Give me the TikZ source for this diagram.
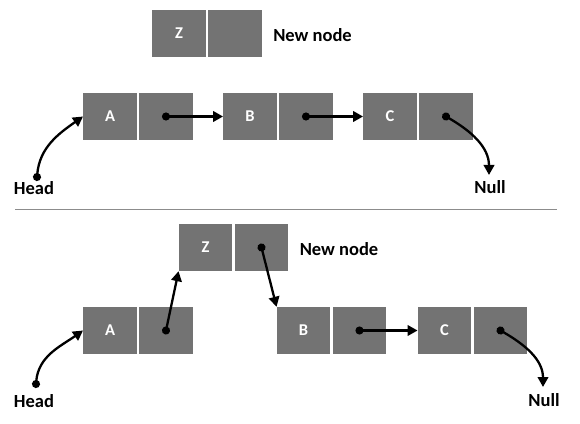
\documentclass[tikz,border=0pt]{standalone}
\usepackage{fontspec}
\setmainfont{Carlito}
\usetikzlibrary{arrows.meta}

\definecolor{cellgray}{RGB}{115,115,115}
\definecolor{rulegray}{RGB}{140,140,140}

\tikzstyle{cell}=[fill=cellgray,rectangle,minimum width=53.5pt,minimum height=47pt,inner sep=0pt,text=white,font=\bfseries\fontsize{16.5}{19}\selectfont]
\tikzstyle{tag}=[inner sep=0pt,font=\bfseries\fontsize{18.5}{21}\selectfont]
\tikzstyle{ptr}=[line width=2.3pt,shorten <=-4pt,{Circle[length=8pt]}-{Triangle[length=10pt,width=10.5pt]}]

\begin{document}
\begin{tikzpicture}[x=1pt,y=1pt]
\useasboundingbox (0,0) rectangle (580,423);

% before inserting: the new node on its own
\node[cell] (top-z-data) at (179,389.5) {Z};
\node[cell] (top-z-next) at (235,389.5) {};
\node[tag] (top-new) at (312.5,388) {New node};

% the list A B C
\node[cell] (top-a-data) at (110,306.5) {A};
\node[cell] (top-a-next) at (166,306.5) {};
\node[cell] (top-b-data) at (250,306.5) {B};
\node[cell] (top-b-next) at (306,306.5) {};
\node[cell] (top-c-data) at (390,306.5) {C};
\node[cell] (top-c-next) at (446,306.5) {};

\node[tag] (top-head) at (34,235) {Head};
\node[tag] (top-null) at (490,236) {Null};
\coordinate (top-head-dot) at (37,246);
\coordinate (top-null-end) at (489,248);

% pointers of the list
\draw[ptr] (top-head-dot) to[out=85,in=215] (top-a-data.west);
\draw[ptr] (top-a-next.center) -- (top-b-data.west);
\draw[ptr] (top-b-next.center) -- (top-c-data.west);
\draw[ptr] (top-c-next.center) to[out=-30,in=90] (top-null-end);

% separator
\draw[rulegray,line width=1.2pt] (15,213.5) -- (557,213.5);

% after inserting: Z between A and B
\node[cell] (bot-z-data) at (205.5,175.5) {Z};
\node[cell] (bot-z-next) at (261.5,175.5) {};
\node[tag] (bot-new) at (339,174) {New node};

\node[cell] (bot-a-data) at (110,92.5) {A};
\node[cell] (bot-a-next) at (166,92.5) {};
\node[cell] (bot-b-data) at (303.5,92.5) {B};
\node[cell] (bot-b-next) at (359.5,92.5) {};
\node[cell] (bot-c-data) at (444.5,92.5) {C};
\node[cell] (bot-c-next) at (500.5,92.5) {};

\node[tag] (bot-head) at (34,22) {Head};
\node[tag] (bot-null) at (544,23) {Null};
\coordinate (bot-head-dot) at (36,39);
\coordinate (bot-null-end) at (543,36);

% pointers after the insert
\draw[ptr] (bot-head-dot) to[out=85,in=215] (bot-a-data.west);
\draw[ptr] (bot-a-next.center) -- (bot-z-data.south west);
\draw[ptr] (bot-z-next.center) -- (bot-b-data.north west);
\draw[ptr] (bot-b-next.center) -- (bot-c-data.west);
\draw[ptr] (bot-c-next.center) to[out=-30,in=90] (bot-null-end);

\end{tikzpicture}
\end{document}
